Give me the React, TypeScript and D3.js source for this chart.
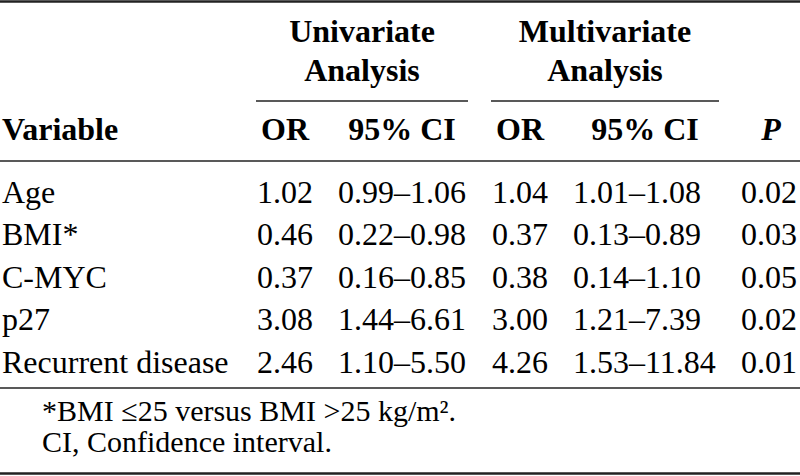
import React from "react";
import * as d3 from "d3";

const variables = ["Age", "BMI*", "C-MYC", "p27", "Recurrent disease"];
const uniOR = ["1.02", "0.46", "0.37", "3.08", "2.46"];
const uniCI = ["0.99–1.06", "0.22–0.98", "0.16–0.85", "1.44–6.61", "1.10–5.50"];
const multiOR = ["1.04", "0.37", "0.38", "3.00", "4.26"];
const multiCI = ["1.01–1.08", "0.13–0.89", "0.14–1.10", "1.21–7.39", "1.53–11.84"];
const pValues = ["0.02", "0.03", "0.05", "0.02", "0.01"];
const footnotes = ["*BMI ≤25 versus BMI >25 kg/m².", "CI, Confidence interval."];

const W = 800;
const H = 476;
const FS = 32;
const FONT = "'Liberation Serif', 'Times New Roman', serif";

export default function App() {
  const y = d3.scalePoint<string>().domain(variables).range([202.5, 373]);
  const fy = d3.scalePoint<string>().domain(footnotes).range([421, 452]);
  const rows = variables.map((v, i) => ({
    v,
    uo: uniOR[i],
    uc: uniCI[i],
    mo: multiOR[i],
    mc: multiCI[i],
    p: pValues[i],
  }));
  const col = { var: 2, uo: 285, uc: 402, mo: 520, mc: 573, p: 769 };
  const base = { fontFamily: FONT, fontSize: FS, fill: "#000" } as const;
  const bold = { ...base, fontWeight: 700 } as const;
  const foot = { ...base, fontSize: 30 } as const;
  return (
    <svg
      width={W}
      height={H}
      viewBox={`0 0 ${W} ${H}`}
      style={{ position: "absolute", left: 0, top: 0, background: "#fff" }}
    >
      <rect x={0} y={0} width={W} height={H} fill="#fff" />
      <line x1={0} x2={W} y1={1.5} y2={1.5} stroke="#222" strokeWidth={2.5} />
      <text x={362} y={42} textAnchor="middle" style={bold}>Univariate</text>
      <text x={362} y={81} textAnchor="middle" style={bold}>Analysis</text>
      <text x={605} y={42} textAnchor="middle" style={bold}>Multivariate</text>
      <text x={605} y={81} textAnchor="middle" style={bold}>Analysis</text>
      <line x1={256} x2={468} y1={101} y2={101} stroke="#222" strokeWidth={1.5} />
      <line x1={491} x2={719} y1={101} y2={101} stroke="#222" strokeWidth={1.5} />
      <text x={col.var} y={140} style={bold}>Variable</text>
      <text x={col.uo} y={140} textAnchor="middle" style={bold}>OR</text>
      <text x={col.uc} y={140} textAnchor="middle" style={bold}>95% CI</text>
      <text x={col.mo} y={140} textAnchor="middle" style={bold}>OR</text>
      <text x={645} y={140} textAnchor="middle" style={bold}>95% CI</text>
      <text x={771} y={140} textAnchor="middle" style={{ ...bold, fontStyle: "italic" }}>P</text>
      <line x1={0} x2={W} y1={161} y2={161} stroke="#222" strokeWidth={1.5} />
      {rows.map((r) => (
        <g key={r.v}>
          <text x={col.var} y={y(r.v)} style={base}>{r.v}</text>
          <text x={col.uo} y={y(r.v)} textAnchor="middle" style={base}>{r.uo}</text>
          <text x={col.uc} y={y(r.v)} textAnchor="middle" style={base}>{r.uc}</text>
          <text x={col.mo} y={y(r.v)} textAnchor="middle" style={base}>{r.mo}</text>
          <text x={col.mc} y={y(r.v)} style={base}>{r.mc}</text>
          <text x={col.p} y={y(r.v)} textAnchor="middle" style={base}>{r.p}</text>
        </g>
      ))}
      <line x1={0} x2={W} y1={388} y2={388} stroke="#222" strokeWidth={1.5} />
      {footnotes.map((f) => (
        <text key={f} x={42} y={fy(f)} style={foot}>{f}</text>
      ))}
      <line x1={0} x2={W} y1={473.5} y2={473.5} stroke="#222" strokeWidth={2.5} />
    </svg>
  );
}
